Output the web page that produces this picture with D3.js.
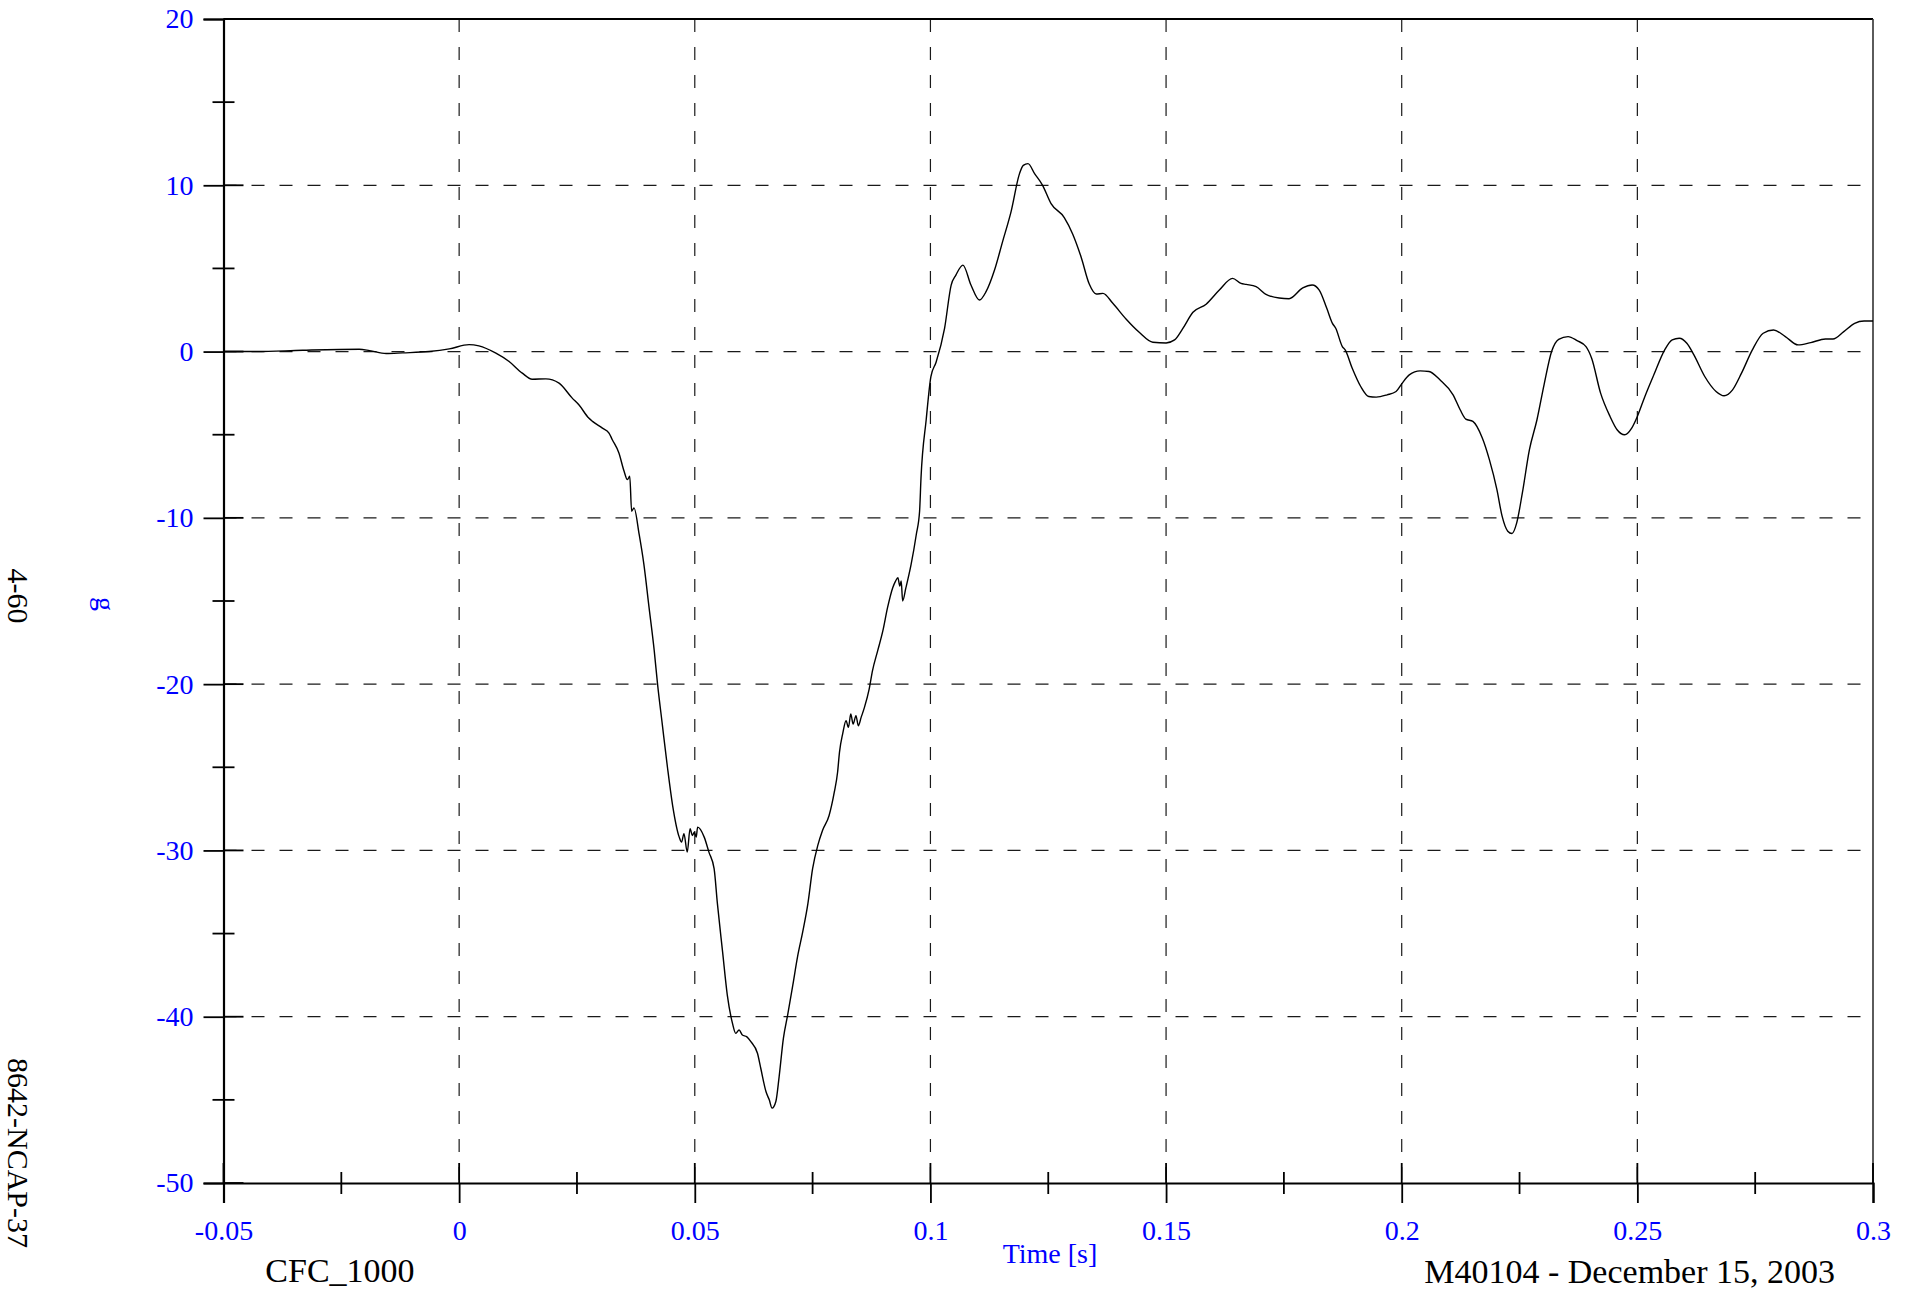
<!DOCTYPE html>
<html>
<head>
<meta charset="utf-8">
<script src="https://cdn.jsdelivr.net/npm/d3@7"></script>
<style>
  html, body { margin: 0; padding: 0; background: #fff; }
  svg { display: block; font-family: "Liberation Serif", "Times New Roman", serif; }
</style>
</head>
<body>
<svg id="chart" width="1914" height="1290"></svg>
<script>
// ---- Data ----
const time = [
  -0.05, -0.043, -0.0332, -0.0212, -0.019, -0.0155, -0.012, -0.0064, -0.0021, 0.0021,
  0.0042, 0.0078, 0.0106, 0.0134, 0.0155, 0.0184, 0.0212, 0.024, 0.0254, 0.0275,
  0.0283, 0.0304, 0.0318, 0.0325, 0.0339, 0.0350, 0.0357, 0.0362, 0.0366, 0.0371,
  0.0382, 0.0392, 0.0403, 0.0414, 0.0421, 0.0431, 0.0442, 0.0453, 0.0467, 0.0472,
  0.0477, 0.0484, 0.049, 0.0495, 0.0499, 0.0503, 0.0506, 0.052, 0.053, 0.0541,
  0.0548, 0.0559, 0.0569, 0.058, 0.0587, 0.0594, 0.0601, 0.061, 0.0619, 0.0633,
  0.064, 0.0651, 0.0658, 0.0664, 0.0672, 0.0679, 0.0688, 0.0697, 0.0708, 0.0718,
  0.0729, 0.074, 0.075, 0.0761, 0.0771, 0.0785, 0.0796, 0.0803, 0.0807, 0.0814,
  0.0821, 0.0826, 0.0831, 0.0836, 0.0842, 0.0847, 0.0853, 0.086, 0.087, 0.0877,
  0.0888, 0.0899, 0.0909, 0.092, 0.0926, 0.0931, 0.0935, 0.0938, 0.0941, 0.0948,
  0.0959, 0.0970, 0.0977, 0.098, 0.0991, 0.1001, 0.1012, 0.103, 0.1044, 0.1054,
  0.1069, 0.1086, 0.1104, 0.1118, 0.1136, 0.1153, 0.1171, 0.1189, 0.1197, 0.1207,
  0.1221, 0.1238, 0.1256, 0.1284, 0.1302, 0.132, 0.1337, 0.1352, 0.1366, 0.1387,
  0.1415, 0.1443, 0.1472, 0.15, 0.1518, 0.1535, 0.1557, 0.1585, 0.1613, 0.1641,
  0.1659, 0.167, 0.1691, 0.1712, 0.174, 0.1761, 0.179, 0.181, 0.1825, 0.1841,
  0.1853, 0.186, 0.1874, 0.188, 0.1895, 0.1913, 0.193, 0.1946, 0.1969, 0.1988,
  0.2, 0.2016, 0.2039, 0.2058, 0.2081, 0.2109, 0.2124, 0.2136, 0.2151, 0.2171,
  0.2186, 0.2202, 0.2213, 0.2225, 0.2234, 0.2244, 0.2256, 0.2271, 0.2287, 0.2302,
  0.2318, 0.2333, 0.2353, 0.2372, 0.2391, 0.2403, 0.2422, 0.2442, 0.2457, 0.2473,
  0.2488, 0.25, 0.2516, 0.2535, 0.2558, 0.2574, 0.2589, 0.2605, 0.262, 0.2643,
  0.2667, 0.2684, 0.2702, 0.2721, 0.2744, 0.2767, 0.2789, 0.2814, 0.2841, 0.2868,
  0.2899, 0.2915, 0.2938, 0.2961, 0.2981, 0.3
];
const accel = [
  0, 0, 0.08, 0.14, 0.06, -0.12, -0.08, 0, 0.16, 0.42,
  0.34, -0.1, -0.6, -1.3, -1.66, -1.64, -1.9, -2.8, -3.2, -4.0,
  -4.2, -4.6, -4.9, -5.3, -6.1, -7.2, -7.7, -7.5, -9.6, -9.4,
  -11.0, -12.8, -15.4, -18.0, -20.0, -22.4, -25.0, -27.3, -29.2, -29.5,
  -29.0, -30.1, -28.7, -29.1, -28.9, -29.2, -28.6, -29.2, -30.1, -31.1,
  -33.2, -36.1, -38.7, -40.4, -41.0, -40.8, -41.1, -41.2, -41.5, -42.2,
  -43.1, -44.5, -45.0, -45.5, -45.1, -43.6, -41.3, -39.9, -38.1, -36.4,
  -34.9, -33.2, -31.1, -29.7, -28.8, -27.9, -26.5, -25.3, -24.1, -22.96,
  -22.2, -22.6, -21.8, -22.4, -21.9, -22.5, -22.0, -21.4, -20.3, -19.2,
  -18.0, -16.8, -15.4, -14.2, -13.8, -13.6, -14.1, -13.8, -15.0, -14.2,
  -12.8, -11.0, -9.6, -7.6, -4.1, -1.5, -0.64, 1.4, 4.0, 4.6,
  5.2, 4.0, 3.1, 3.6, 4.9, 6.6, 8.4, 10.7, 11.2, 11.3,
  10.7, 10.0, 8.9, 8.06, 7.06, 5.66, 4.06, 3.46, 3.5, 2.9,
  1.96, 1.16, 0.56, 0.52, 0.7, 1.36, 2.36, 2.85, 3.7, 4.4,
  4.1, 4.04, 3.9, 3.44, 3.22, 3.18, 3.83, 4.0, 3.7, 2.6,
  1.7, 1.4, 0.3, 0.1, -1.0, -2.1, -2.7, -2.74, -2.6, -2.4,
  -1.94, -1.4, -1.16, -1.2, -1.7, -2.6, -3.5, -4.06, -4.2, -5.2,
  -6.5, -8.3, -9.9, -10.8, -10.94, -10.3, -8.5, -5.9, -4.1, -2.0,
  0, 0.74, 0.9, 0.66, 0.3, -0.4, -2.5, -3.9, -4.7, -5.0,
  -4.6, -3.9, -2.7, -1.4, 0.1, 0.7, 0.8, 0.5, -0.2, -1.5,
  -2.4, -2.66, -2.3, -1.3, 0.1, 1.1, 1.3, 0.9, 0.4, 0.54,
  0.76, 0.76, 1.2, 1.7, 1.84, 1.84
];
const xMajorTicks = [-0.05, 0, 0.05, 0.1, 0.15, 0.2, 0.25, 0.3];
const xMinorTicks = [-0.025, 0.025, 0.075, 0.125, 0.175, 0.225, 0.275];
const yMajorTicks = [-50, -40, -30, -20, -10, 0, 10, 20];
const yMinorTicks = [-45, -35, -25, -15, -5, 5, 15];
const xTickLabels = ["-0.05", "0", "0.05", "0.1", "0.15", "0.2", "0.25", "0.3"];
const yTickLabels = ["-50", "-40", "-30", "-20", "-10", "0", "10", "20"];
const xTitle = "Time [s]";
const yTitle = "g";
const filterLabel = "CFC_1000";
const testLabel = "M40104 - December 15, 2003";
const sideLabelTop = "4-60";
const sideLabelBottom = "8642-NCAP-37";

// ---- Layout ----
const L = 223.5, R = 1873, T = 19, B = 1183;
const blue = "#0000ff";

const svg = d3.select("#chart");
const x = d3.scaleLinear().domain([-0.05, 0.3]).range([L, R]);
const y = d3.scaleLinear().domain([-50, 20]).range([B, T]);

// gridlines (dashed)
const grid = svg.append("g").attr("stroke", "#1a1a1a").attr("stroke-width", 1.2)
  .attr("stroke-dasharray", "13,15").attr("fill", "none");
grid.selectAll("line.gy").data(yMajorTicks.filter(v => v > -50 && v < 20)).join("line")
  .attr("x1", L).attr("x2", R).attr("y1", d => y(d)).attr("y2", d => y(d));
grid.selectAll("line.gx").data(xMajorTicks.filter(v => v > -0.05 && v < 0.3)).join("line")
  .attr("y1", T).attr("y2", B).attr("x1", d => x(d)).attr("x2", d => x(d));

// frame: top and right
svg.append("line").attr("x1", L).attr("x2", R).attr("y1", T).attr("y2", T)
  .attr("stroke", "#000").attr("stroke-width", 2);
svg.append("line").attr("x1", R).attr("x2", R).attr("y1", T).attr("y2", B)
  .attr("stroke", "#333").attr("stroke-width", 1.6);

// Y axis
const yAxis = d3.axisLeft(y).tickValues(yMajorTicks)
  .tickFormat((d, i) => yTickLabels[i]).tickSize(20).tickPadding(10);
const gy = svg.append("g").attr("transform", `translate(${L},0)`).call(yAxis);
gy.select(".domain").attr("stroke", "#000").attr("stroke-width", 2.2);
gy.selectAll(".tick line").attr("stroke", "#000").attr("stroke-width", 1.8);
gy.selectAll(".tick text").attr("fill", blue).attr("font-size", 28)
  .attr("font-family", '"Liberation Serif", "Times New Roman", serif');
// inward major ticks + minor ticks
gy.selectAll("line.inmaj").data(yMajorTicks).join("line").attr("class", "inmaj")
  .attr("x1", 0).attr("x2", 20).attr("y1", d => y(d)).attr("y2", d => y(d))
  .attr("stroke", "#000").attr("stroke-width", 1.8);
gy.selectAll("line.minor").data(yMinorTicks).join("line").attr("class", "minor")
  .attr("x1", -11).attr("x2", 11).attr("y1", d => y(d)).attr("y2", d => y(d))
  .attr("stroke", "#000").attr("stroke-width", 1.8);

// X axis
const xAxis = d3.axisBottom(x).tickValues(xMajorTicks)
  .tickFormat((d, i) => xTickLabels[i]).tickSize(20).tickPadding(17);
const gx = svg.append("g").attr("transform", `translate(0,${B})`).call(xAxis);
gx.select(".domain").attr("stroke", "#000").attr("stroke-width", 2.2);
gx.selectAll(".tick line").attr("stroke", "#000").attr("stroke-width", 1.8);
gx.selectAll(".tick text").attr("fill", blue).attr("font-size", 28)
  .attr("font-family", '"Liberation Serif", "Times New Roman", serif');
gx.selectAll("line.inmaj").data(xMajorTicks).join("line").attr("class", "inmaj")
  .attr("y1", 0).attr("y2", -20).attr("x1", d => x(d)).attr("x2", d => x(d))
  .attr("stroke", "#000").attr("stroke-width", 1.8);
gx.selectAll("line.minor").data(xMinorTicks).join("line").attr("class", "minor")
  .attr("y1", -11).attr("y2", 11).attr("x1", d => x(d)).attr("x2", d => x(d))
  .attr("stroke", "#000").attr("stroke-width", 1.8);

// data line
const pts = time.map((t, i) => [t, accel[i]]);
const line = d3.line().x(d => x(d[0])).y(d => y(d[1])).curve(d3.curveMonotoneX);
svg.append("path").datum(pts).attr("d", line)
  .attr("fill", "none").attr("stroke", "#000").attr("stroke-width", 1.4)
  .attr("stroke-linejoin", "round");

// titles & labels
svg.append("text").attr("x", 1050).attr("y", 1253).attr("dy", "0.35em")
  .attr("text-anchor", "middle").attr("fill", blue).attr("font-size", 28).text(xTitle);
svg.append("text").attr("transform", "translate(106,604) rotate(90)").attr("dy", "0.35em")
  .attr("text-anchor", "middle").attr("fill", blue).attr("font-size", 28).text(yTitle);
svg.append("text").attr("x", 340).attr("y", 1270).attr("dy", "0.35em")
  .attr("text-anchor", "middle").attr("fill", "#000").attr("font-size", 34).text(filterLabel);
svg.append("text").attr("x", 1835).attr("y", 1271).attr("dy", "0.35em")
  .attr("text-anchor", "end").attr("fill", "#000").attr("font-size", 34).text(testLabel);
svg.append("text").attr("transform", "translate(18,596) rotate(90)").attr("dy", "0.35em")
  .attr("text-anchor", "middle").attr("fill", "#000").attr("font-size", 30).text(sideLabelTop);
svg.append("text").attr("transform", "translate(18,1153) rotate(90)").attr("dy", "0.35em")
  .attr("text-anchor", "middle").attr("fill", "#000").attr("font-size", 30).text(sideLabelBottom);
</script>
</body>
</html>
